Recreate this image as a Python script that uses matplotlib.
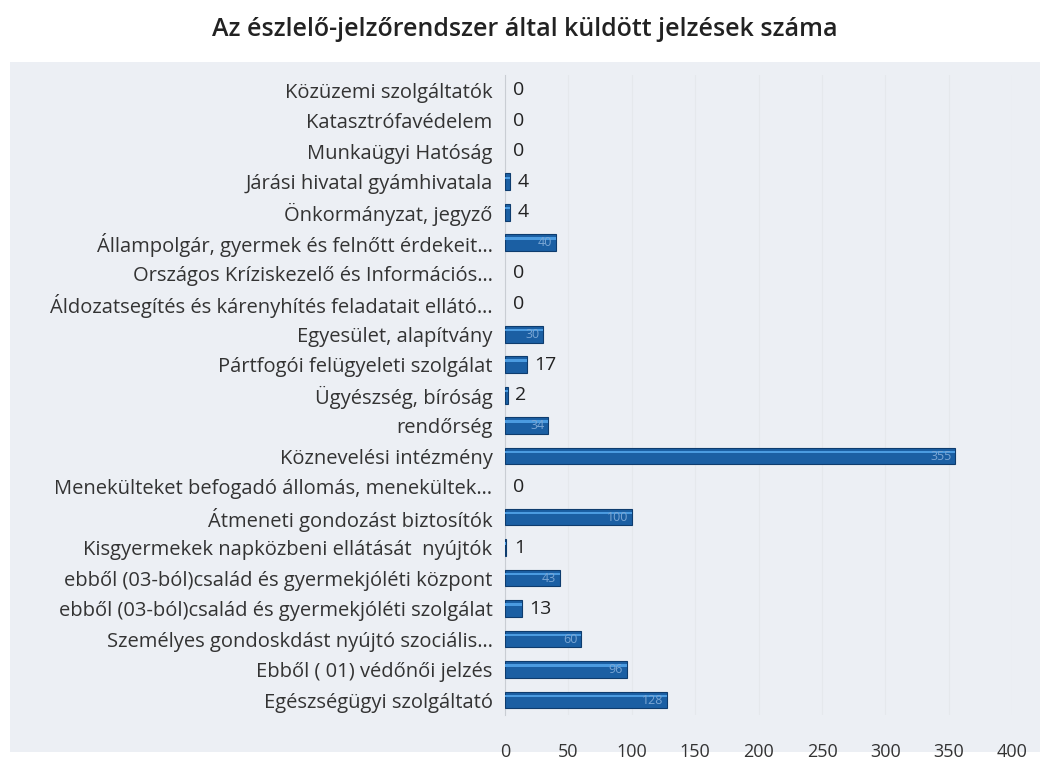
import matplotlib
matplotlib.use("Agg")
import matplotlib.pyplot as plt
from matplotlib.patches import Rectangle

plt.rcParams['font.family'] = ['Open Sans', 'DejaVu Sans']

# top to bottom, as in the chart
categories = [
    "Közüzemi szolgáltatók",
    "Katasztrófavédelem",
    "Munkaügyi Hatóság",
    "Járási hivatal gyámhivatala",
    "Önkormányzat, jegyző",
    "Állampolgár, gyermek és felnőtt érdekeit…",
    "Országos Kríziskezelő és Információs…",
    "Áldozatsegítés és kárenyhítés feladatait ellátó…",
    "Egyesület, alapítvány",
    "Pártfogói felügyeleti szolgálat",
    "Ügyészség, bíróság",
    "rendőrség",
    "Köznevelési intézmény",
    "Menekülteket befogadó állomás, menekültek…",
    "Átmeneti gondozást biztosítók",
    "Kisgyermekek napközbeni ellátását  nyújtók",
    "ebből (03-ból)család és gyermekjóléti központ",
    "ebből (03-ból)család és gyermekjóléti szolgálat",
    "Személyes gondoskdást nyújtó szociális…",
    "Ebből ( 01) védőnői jelzés",
    "Egészségügyi szolgáltató",
]
values = [0, 0, 0, 4, 4, 40, 0, 0, 30, 17, 2, 34, 355, 0, 100, 1, 43, 13, 60, 96, 128]
xticks = [0, 50, 100, 150, 200, 250, 300, 350, 400]

fig = plt.figure(figsize=(10.5, 7.65), dpi=100)
fig.patch.set_facecolor("white")
fig.patches.append(Rectangle((10 / 1050, 1 - 752 / 765), 1030 / 1050, 690 / 765,
                             transform=fig.transFigure, facecolor="#eceff4",
                             edgecolor="none", zorder=-5))

ax = fig.add_axes([0.481, 0.065, 0.483, 0.837])
ax.set_facecolor("none")
ax.set_zorder(2)

y = list(range(len(categories)))
lw = [0.8 if v > 0 else 0 for v in values]
ax.barh(y, values, height=0.55, color="#1b5fa3", edgecolor="#0e3c6e", linewidth=lw, zorder=3)
# lighter streak along the top of each bar
ax.barh([yi - 0.13 for yi in y], values, height=0.08, color="#4b9be0",
        linewidth=0, zorder=3.5)
ax.set_yticks(y)
ax.set_yticklabels(categories, fontsize=14.5, color="#333333")
ax.set_ylim(len(categories) - 0.5, -0.5)
ax.set_xlim(0, 400)
ax.set_xticks(xticks)
ax.set_xticklabels([str(t) for t in xticks], fontsize=13, color="#333333")
ax.tick_params(axis="both", length=0)
ax.tick_params(axis="x", pad=20)
ax.tick_params(axis="y", pad=9)
for s in ["top", "right", "bottom"]:
    ax.spines[s].set_visible(False)
ax.spines["left"].set_color("#c9cdd3")
ax.grid(axis="x", color="#e5e8ec", linewidth=0.8, zorder=0)

for yi, v in zip(y, values):
    if v >= 20:
        ax.text(v - 3, yi, str(v), ha="right", va="center", fontsize=9,
                color="#7aa6d4", zorder=4)
    else:
        ax.text(v + 6, yi, str(v), ha="left", va="center", fontsize=14,
                color="#222222", zorder=4)

fig.text(0.5, 1 - 30 / 765, "Az észlelő-jelzőrendszer által küldött jelzések száma",
         ha="center", va="center", fontsize=18, fontweight="semibold", color="#222222")

fig.savefig("out.png", dpi=100)
